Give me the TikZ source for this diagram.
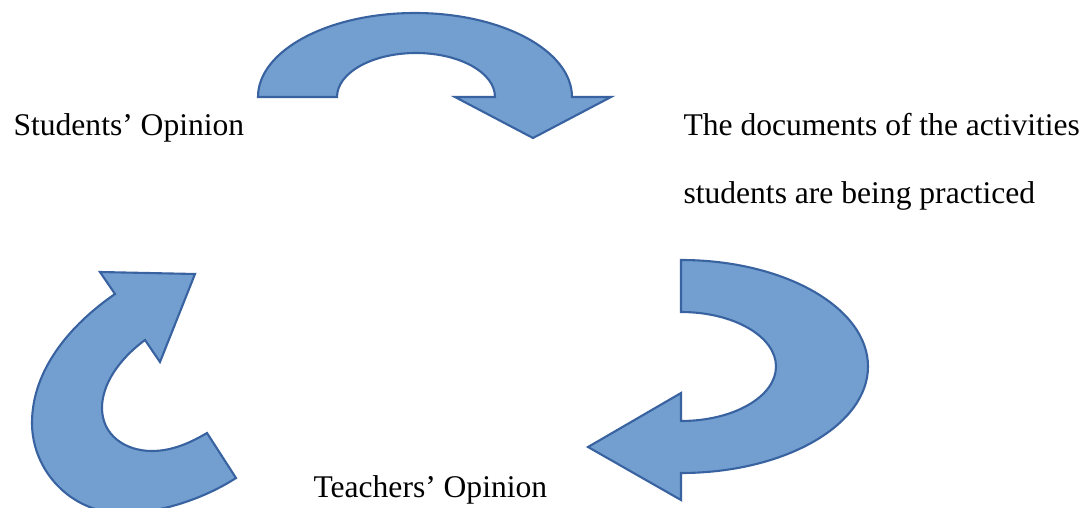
\documentclass[tikz,border=0pt]{standalone}
\usepackage{fontspec}
\setmainfont{Liberation Serif}
\usetikzlibrary{positioning}

\definecolor{arrowfill}{RGB}{114,159,207}
\definecolor{arrowline}{RGB}{56,98,160}

\begin{document}
\begin{tikzpicture}[x=0.38pt, y=-0.38pt,
    turn/.style={fill=arrowfill, draw=arrowline, line width=0.8pt, line join=miter},
    label/.style={anchor=base west, inner sep=0pt, font=\fontsize{12}{14}\selectfont}]
  \useasboundingbox (0,0) rectangle (1088,508);
  \clip (0,0) rectangle (1088,508);
  % Labels
  \node[label] (students) at (13,135) {Students' Opinion};
  \node[label] (docs) at (683,135) {The documents of the activities};
  \node[label] (practiced) at (683,204) {students are being practiced};
  \node[label] (teachers) at (313,497) {Teachers' Opinion};
  % Top arrow
  \draw[turn] (258,97) arc[start angle=180, end angle=360, x radius=157, y radius=84]
    -- (611,97) -- (533,138) -- (455,97) -- (495,97)
    arc[start angle=0, end angle=-180, x radius=79, y radius=44] -- cycle;
  % Right arrow
  \draw[turn] (681,260) arc[start angle=-90, end angle=90, x radius=187, y radius=106.5]
    -- (681,500) -- (588,447) -- (681,393) -- (681,421)
    arc[start angle=90, end angle=-90, x radius=95, y radius=54.5] -- cycle;
  % Left arrow
  \draw[turn] (236,478) .. controls (205,498) and (160,514) .. (120,513)
    .. controls (70,512) and (32,470) .. (32,423)
    .. controls (32,370) and (70,325) .. (115,294)
    -- (100,272) -- (195,274) -- (160,362) -- (145,340)
    .. controls (118,360) and (102,385) .. (102,408)
    .. controls (102,435) and (125,451) .. (152,451)
    .. controls (172,451) and (190,443) .. (207,433) -- cycle;
\end{tikzpicture}
\end{document}
